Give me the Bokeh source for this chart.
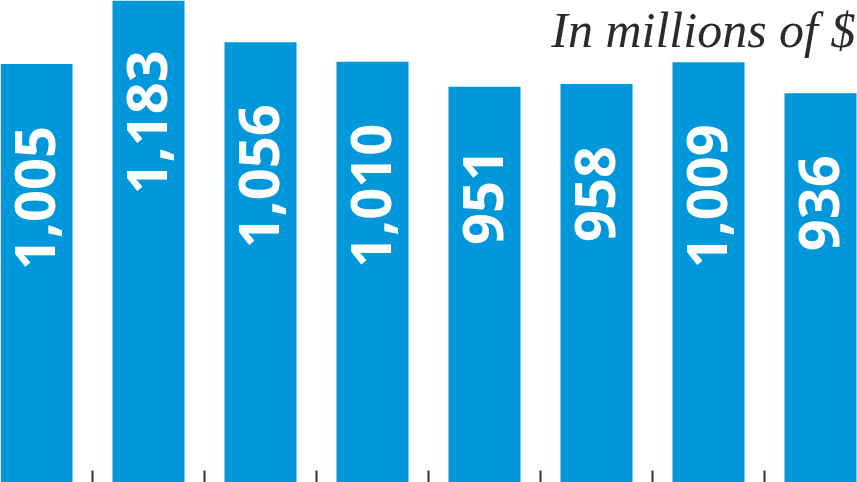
import math
from bokeh.plotting import figure
from bokeh.models import ColumnDataSource, Range1d, FixedTicker, Label
from bokeh.core.properties import value
from bokeh.embed import file_html
from bokeh.resources import INLINE

# ---- data ----
values = [1005, 1183, 1056, 1010, 951, 958, 1009, 936]
labels = ["1,005", "1,183", "1,056", "1,010", "951", "958", "1,009", "936"]
positions = list(range(len(values)))
title_text = "In millions of $"

BAR_COLOR = "#0098DA"

src = ColumnDataSource(dict(x=positions, top=values, label=labels))

p = figure(width=857, height=482, output_backend="svg", toolbar_location=None,
           x_range=Range1d(-36 / 112, 821 / 112), y_range=Range1d(21, 1154),
           min_border=0, min_border_left=0, min_border_right=0,
           min_border_top=0, min_border_bottom=0)
p.outline_line_color = None
p.grid.visible = False
p.background_fill_color = "white"
p.border_fill_color = "white"

p.vbar(x="x", top="top", bottom=0, width=72 / 112, source=src,
       fill_color=BAR_COLOR, line_color=None)

p.text(x="x", y="top", text="label", source=src, angle=math.pi / 2,
       text_align="right", text_baseline="middle", y_offset=62, x_offset=-2,
       text_color="white", text_font=value("Open Sans"),
       text_font_style="bold", text_font_size="56px")

# axes
p.yaxis.visible = False
xa = p.xaxis[0]
tick_pos = [i + 0.5 for i in positions[:-1]]
xa.ticker = FixedTicker(ticks=tick_pos)
xa.major_label_overrides = {t: "" for t in tick_pos}
xa.major_tick_in = 12
xa.major_tick_out = 0
xa.major_tick_line_color = "#333333"
xa.major_tick_line_width = 2
xa.minor_tick_line_color = None
xa.axis_line_color = None
xa.major_label_text_font_size = "1px"
xa.major_label_standoff = 0

p.add_layout(Label(x=855, y=453, x_units="screen", y_units="screen",
                   text=title_text, text_align="right", text_baseline="alphabetic",
                   text_font="Liberation Serif", text_font_style="italic",
                   text_font_size="50px", text_color="#2b2b2b"))

open("out.html", "w").write(file_html(p, INLINE))
